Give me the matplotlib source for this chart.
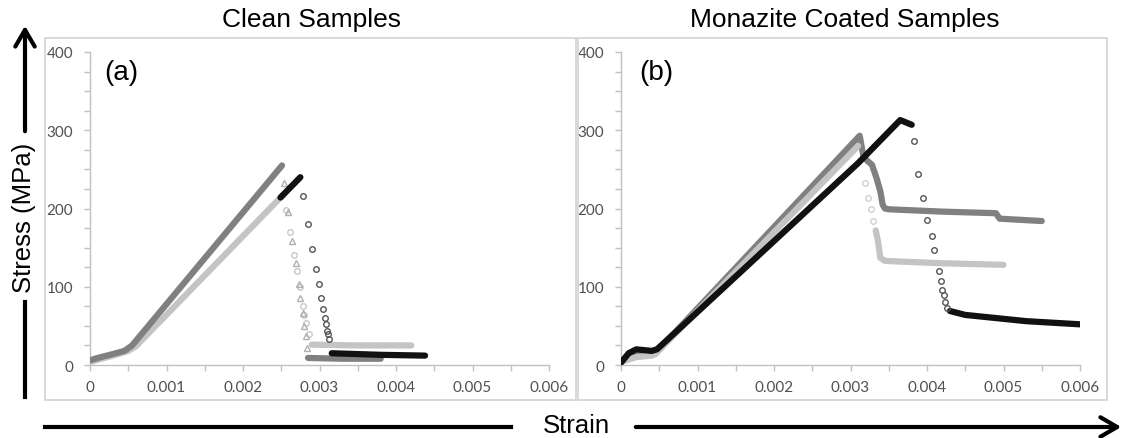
import matplotlib.pyplot as plt
from matplotlib.patches import Rectangle, FancyArrowPatch
from matplotlib.lines import Line2D

# ---- data (strain, stress MPa) ----
# (a) clean samples
a_dark_x = [0, 0.0001, 0.0003, 0.00045, 0.00055, 0.00251]
a_dark_y = [6, 9, 14, 18, 25, 255]
a_dark_drop_x = [0.00254, 0.00259, 0.00264, 0.00269, 0.00273, 0.00275, 0.00278, 0.0028, 0.00282, 0.00284]
a_dark_drop_y = [233, 196, 158, 130, 104, 86, 67, 50, 37, 22]
a_dark_tail_x = [0.00285, 0.0033, 0.0038]
a_dark_tail_y = [9, 8, 8]

a_light_x = [0, 0.0003, 0.0005, 0.0006, 0.00252]
a_light_y = [4, 12, 18, 24, 217]
a_light_drop_x = [0.00256, 0.00261, 0.00267, 0.0027, 0.00275, 0.00278, 0.0028, 0.00283, 0.00286]
a_light_drop_y = [198, 170, 140, 120, 100, 75, 64, 54, 39]
a_light_tail_x = [0.0029, 0.0035, 0.0042]
a_light_tail_y = [26, 25, 25]

a_black_x = [0.00249, 0.00262, 0.00275]
a_black_y = [214, 227, 240]
a_black_drop_x = [0.00278, 0.00285, 0.0029, 0.00295, 0.00299, 0.00302, 0.00305, 0.00307, 0.00308, 0.0031, 0.00311, 0.00312]
a_black_drop_y = [216, 180, 148, 123, 103, 86, 71, 60, 52, 44, 39, 33]
a_black_tail_x = [0.00316, 0.0038, 0.00438]
a_black_tail_y = [15, 13, 12]

# (b) monazite coated samples
b_dark_x = [0, 0.0002, 0.0004, 0.00045, 0.00312, 0.00317, 0.00323, 0.00328, 0.00334, 0.00339, 0.00342, 0.00345,
            0.0035, 0.0042, 0.0049, 0.00495, 0.0055]
b_dark_y = [5, 12, 14, 15, 293, 266, 260, 256, 239, 222, 205, 200,
            199, 196, 194, 187, 184]

b_light_x = [0, 0.0002, 0.0004, 0.00045, 0.0031]
b_light_y = [4, 10, 12, 14, 280]
b_light_drop_x = [0.00319, 0.00323, 0.00327, 0.0033]
b_light_drop_y = [232, 213, 200, 184]
b_light_tail_x = [0.00333, 0.00336, 0.00339, 0.00345, 0.0042, 0.005]
b_light_tail_y = [172, 158, 137, 133, 130, 128]

b_black_x = [0, 0.0001, 0.0002, 0.0004, 0.00047, 0.00077, 0.0031, 0.00365, 0.0038]
b_black_y = [3, 15, 20, 18, 20, 47, 258, 313, 307]
b_black_drop_x = [0.00383, 0.00388, 0.00395, 0.004, 0.00406, 0.00409, 0.00416, 0.00418, 0.0042, 0.00422, 0.00424, 0.00426]
b_black_drop_y = [286, 244, 214, 185, 165, 147, 120, 107, 96, 90, 81, 73]
b_black_tail_x = [0.0043, 0.0045, 0.0049, 0.0053, 0.006]
b_black_tail_y = [69, 64, 60, 56, 52]

x_ticks = [0, 0.001, 0.002, 0.003, 0.004, 0.005, 0.006]
x_tick_labels = ["0", "0.001", "0.002", "0.003", "0.004", "0.005", "0.006"]
y_ticks = [0, 100, 200, 300, 400]

DARK = "#808080"
LIGHT = "#c4c4c4"
BLACK = "#111111"
AXIS = "#c0c0c0"
TICK_TXT = "#505050"

W, H = 1126, 439
fig = plt.figure(figsize=(W / 100, H / 100), dpi=100)


def fx(px):
    return px / W


def fy(py):
    return 1 - py / H


def band(ax, x, y, color, z):
    ax.plot(x, y, color=color, lw=4.5, solid_capstyle="round", solid_joinstyle="round", zorder=z)


def sparse(ax, x, y, color, marker, z):
    ax.plot(x, y, ls="none", marker=marker, ms=4, mfc="none", mec=color, mew=1.0, zorder=z)


def style_axes(ax, tag, tag_x):
    ax.set_xlim(0, 0.006)
    ax.set_ylim(0, 400)
    for s in ("top", "right"):
        ax.spines[s].set_visible(False)
    for s in ("left", "bottom"):
        ax.spines[s].set_color(AXIS)
        ax.spines[s].set_linewidth(1.0)
    ax.set_xticks(x_ticks)
    ax.set_xticklabels(x_tick_labels)
    ax.set_xticks([0.0005, 0.0015, 0.0025, 0.0035, 0.0045, 0.0055], minor=True)
    ax.set_yticks(y_ticks)
    ax.set_yticks([25, 50, 75, 125, 150, 175, 225, 250, 275, 325, 350, 375], minor=True)
    ax.tick_params(which="both", direction="out", length=4, width=1, color=AXIS,
                   labelcolor=TICK_TXT, labelsize=11)
    ax.tick_params(axis="x", which="major", pad=7)
    ax.tick_params(axis="y", which="major", pad=8)
    for lab in ax.get_xticklabels() + ax.get_yticklabels():
        lab.set_family("Lato")
    ax.text(tag_x, 0.935, tag, transform=ax.transAxes, fontsize=20,
            family="Liberation Sans", ha="center", va="center")


# panel frames
for l, r in ((45, 576), (578, 1107)):
    fig.patches.append(Rectangle((fx(l), fy(401)), fx(r) - fx(l), fy(39) - fy(401),
                                 transform=fig.transFigure, fill=False,
                                 edgecolor="#d6d6d6", lw=1.3))

ax_a = fig.add_axes([fx(90), fy(366), fx(549) - fx(90), fy(53) - fy(366)])
ax_b = fig.add_axes([fx(621), fy(366), fx(1080) - fx(621), fy(53) - fy(366)])
for ax in (ax_a, ax_b):
    ax.patch.set_alpha(0)

# (a)
band(ax_a, a_light_x, a_light_y, LIGHT, 2)
band(ax_a, a_light_tail_x, a_light_tail_y, LIGHT, 2)
sparse(ax_a, a_light_drop_x, a_light_drop_y, "#c8c8c8", "o", 2)
band(ax_a, a_dark_x, a_dark_y, DARK, 3)
band(ax_a, a_dark_tail_x, a_dark_tail_y, DARK, 3)
sparse(ax_a, a_dark_drop_x, a_dark_drop_y, "#b0b0b0", "^", 3)
band(ax_a, a_black_x, a_black_y, BLACK, 4)
band(ax_a, a_black_tail_x, a_black_tail_y, BLACK, 4)
sparse(ax_a, a_black_drop_x, a_black_drop_y, "#555555", "o", 4)
style_axes(ax_a, "(a)", 0.068)

# (b)
band(ax_b, b_dark_x, b_dark_y, DARK, 2)
band(ax_b, b_light_x, b_light_y, LIGHT, 3)
band(ax_b, b_light_tail_x, b_light_tail_y, LIGHT, 3)
sparse(ax_b, b_light_drop_x, b_light_drop_y, "#d0d0d0", "o", 3)
band(ax_b, b_black_x, b_black_y, BLACK, 4)
band(ax_b, b_black_tail_x, b_black_tail_y, BLACK, 4)
sparse(ax_b, b_black_drop_x, b_black_drop_y, "#555555", "o", 4)
style_axes(ax_b, "(b)", 0.078)

# titles
fig.text(fx(311), fy(20), "Clean Samples", fontsize=19, family="Liberation Sans",
         ha="center", va="center")
fig.text(fx(845), fy(20), "Monazite Coated Samples", fontsize=19, family="Liberation Sans",
         ha="center", va="center")

# axis arrows
fig.lines.append(Line2D([fx(25), fx(25)], [fy(398), fy(303)], transform=fig.transFigure,
                        color="black", lw=3))
fig.patches.append(FancyArrowPatch((fx(25), fy(135)), (fx(25), fy(24)), transform=fig.transFigure,
                                   arrowstyle="->,head_length=0.6,head_width=0.35",
                                   mutation_scale=20, color="black", lw=3))
fig.text(fx(24), fy(218), "Stress (MPa)", rotation=90, fontsize=18.5, family="Liberation Sans",
         ha="center", va="center")

fig.lines.append(Line2D([fx(45), fx(511)], [fy(428), fy(428)], transform=fig.transFigure,
                        color="black", lw=3))
fig.patches.append(FancyArrowPatch((fx(633), fy(428)), (fx(1124), fy(428)), transform=fig.transFigure,
                                   arrowstyle="->,head_length=0.6,head_width=0.35",
                                   mutation_scale=20, color="black", lw=3))
fig.text(fx(576), fy(433), "Strain", fontsize=18.5, family="Liberation Sans",
         ha="center", va="baseline")

fig.savefig("out.png", dpi=100)
